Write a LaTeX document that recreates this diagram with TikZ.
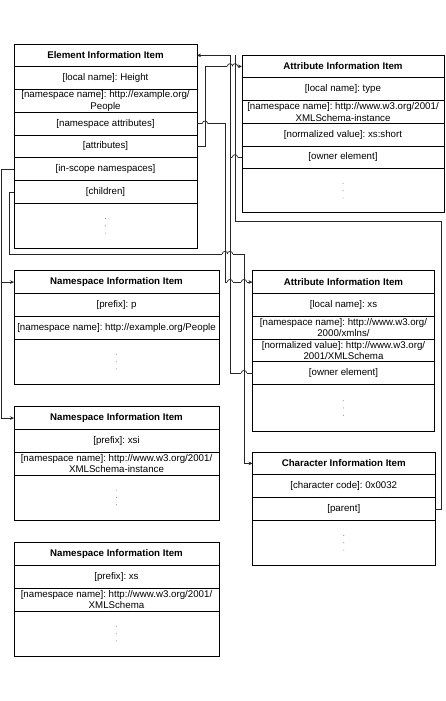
\documentclass[tikz,border=0pt]{standalone}
\usepackage{fontspec}
\setmainfont{Liberation Sans}
\usetikzlibrary{arrows.meta, positioning}

\newcommand{\itemfont}{\fontsize{9.7}{11.5}\selectfont}
\frenchspacing

\begin{document}
\begin{tikzpicture}[
  x=1pt, y=-1pt,
  row/.style={rectangle, draw, line width=0.8pt, minimum height=22.75pt, inner xsep=1pt, inner ysep=0.5pt, outer sep=0pt, align=center, font=\itemfont},
  head/.style={row, font=\itemfont\bfseries},
  more/.style={row, minimum height=#1},
  more/.default=45.5pt,
  conn/.style={line width=0.7pt, black!85},
  arrow/.style={conn, -{Stealth[length=4pt, width=3.6pt]}},
  hop/.pic={
    \fill[white] (-2.7,-0.8) rectangle (2.7,0.8);
    \draw[conn] (0,-1.3) -- (0,1.3);
    \draw[conn] (-2.7,0) .. controls (-2.7,-3.5) and (2.7,-3.5) .. (2.7,0);
  }
]
  \fill[white] (0,0) rectangle (446,701);
  \useasboundingbox (0,0) rectangle (446,701);

  % Element item
  \begin{scope}[nodes={minimum width=183pt}]
    \node[head, anchor=north west] (elem) at (14,44) {Element Information Item};
    \node[row, below=0pt of elem] (elem-local) {[local name]: Height};
    \node[row, below=0pt of elem-local] (elem-ns) {[namespace name]: http://example.org/\\People};
    \node[row, below=0pt of elem-ns] (elem-nsattr) {[namespace attributes]};
    \node[row, below=0pt of elem-nsattr] (elem-attrs) {[attributes]};
    \node[row, below=0pt of elem-attrs] (elem-scope) {[in-scope namespaces]};
    \node[row, below=0pt of elem-scope] (elem-child) {[children]};
    \node[more=45pt, below=0pt of elem-child] (elem-more) {};
  \end{scope}

  % Attribute item (type)
  \begin{scope}[nodes={minimum width=202pt}]
    \node[head, anchor=north west] (att1) at (242,55) {Attribute Information Item};
    \node[row, below=0pt of att1] (att1-local) {[local name]: type};
    \node[row, below=0pt of att1-local] (att1-ns) {[namespace name]: http://www.w3.org/2001/\\XMLSchema-instance};
    \node[row, below=0pt of att1-ns] (att1-value) {[normalized value]: xs:short};
    \node[row, below=0pt of att1-value] (att1-owner) {[owner element]};
    \node[more=44pt, below=0pt of att1-owner] (att1-more) {};
  \end{scope}

  % Namespace item (p)
  \begin{scope}[nodes={minimum width=205pt}]
    \node[head, anchor=north west] (ns1) at (14,270.7) {Namespace Information Item};
    \node[row, below=0pt of ns1] (ns1-prefix) {[prefix]: p};
    \node[row, below=0pt of ns1-prefix] (ns1-name) {[namespace name]: http://example.org/People};
    \node[more=45.3pt, below=0pt of ns1-name] (ns1-more) {};
  \end{scope}

  % Attribute item (xs)
  \begin{scope}[nodes={minimum width=182pt}]
    \node[head, anchor=north west] (att2) at (252.5,270.7) {Attribute Information Item};
    \node[row, below=0pt of att2] (att2-local) {[local name]: xs};
    \node[row, below=0pt of att2-local] (att2-ns) {[namespace name]: http://www.w3.org/\\2000/xmlns/};
    \node[row, below=0pt of att2-ns] (att2-value) {[normalized value]: http://www.w3.org/\\2001/XMLSchema};
    \node[row, below=0pt of att2-value] (att2-owner) {[owner element]};
    \node[more=47pt, below=0pt of att2-owner] (att2-more) {};
  \end{scope}

  % Namespace item (xsi)
  \begin{scope}[nodes={minimum width=205pt}]
    \node[head, anchor=north west] (ns2) at (14,406.7) {Namespace Information Item};
    \node[row, below=0pt of ns2] (ns2-prefix) {[prefix]: xsi};
    \node[row, below=0pt of ns2-prefix] (ns2-name) {[namespace name]: http://www.w3.org/2001/\\XMLSchema-instance};
    \node[more=45pt, below=0pt of ns2-name] (ns2-more) {};
  \end{scope}

  % Character item
  \begin{scope}[nodes={minimum width=182.5pt}]
    \node[head, anchor=north west] (chr) at (252.5,452) {Character Information Item};
    \node[row, below=0pt of chr] (chr-code) {[character code]: 0x0032};
    \node[row, below=0pt of chr-code] (chr-parent) {[parent]};
    \node[more=45pt, below=0pt of chr-parent] (chr-more) {};
  \end{scope}

  % Namespace item (xs)
  \begin{scope}[nodes={minimum width=205pt}]
    \node[head, anchor=north west] (ns3) at (14,542.7) {Namespace Information Item};
    \node[row, below=0pt of ns3] (ns3-prefix) {[prefix]: xs};
    \node[row, below=0pt of ns3-prefix] (ns3-name) {[namespace name]: http://www.w3.org/2001/\\XMLSchema};
    \node[more=45.3pt, below=0pt of ns3-name] (ns3-more) {};
  \end{scope}

  % faint dots in the open part of each item
  \foreach \n in {elem-more, att1-more, ns1-more, att2-more, ns2-more, chr-more, ns3-more}
    \foreach \k in {-7.3, 0, 7.3}
      \fill[black!40] ([yshift=\k pt]\n.center) circle (0.55pt);

  % routing channels
  \coordinate (chL) at (1.7,0);
  \coordinate (chK) at (9,0);
  \coordinate (chA) at (205,0);
  \coordinate (chN) at (225,0);
  \coordinate (chO) at (230,0);
  \coordinate (chP) at (235,0);
  \coordinate (chC) at (244,0);
  \coordinate (low) at (0,254);
  \coordinate (ret) at (441.5,221);

  % attributes and namespace attributes
  \draw[arrow] (elem-attrs.east) -- (chA |- elem-attrs.east) -- (chA |- att1.west) -- (att1.west);
  \draw[arrow] (elem-nsattr.east) -- (chN |- elem-nsattr.east) -- (chN |- att2.west) -- (att2.west);

  % owner element and parent back to the element
  \draw[arrow] (att1-owner.west) -- (chO |- att1-owner.west) -- (chO |- elem.east) -- (elem.east);
  \draw[conn] (att2-owner.west) -- (chO |- att2-owner.west) -- (chO |- att1-owner.west);
  \draw[conn] (chr-parent.east) -| (ret) -| (chP |- elem.east);

  % in-scope namespaces
  \draw[arrow] (elem-scope.west) -- (chL |- elem-scope.west) -- (chL |- ns2.west) -- (ns2.west);
  \draw[arrow] (chL |- ns1.west) -- (ns1.west);

  % children
  \draw[arrow] (elem-child.west) -- (chK |- elem-child.west) -- (chK |- low) -- (chC |- low) -- (chC |- chr.west) -- (chr.west);

  % line jumps
  \foreach \p in {chO |- att1.west, chP |- att1.west, chA |- elem-nsattr.east, chP |- att1-owner.west,
                  chN |- low, chO |- low, chO |- att2.west, chC |- att2.west, chC |- att2-owner.west}
    \pic at (\p) {hop};
\end{tikzpicture}
\end{document}
